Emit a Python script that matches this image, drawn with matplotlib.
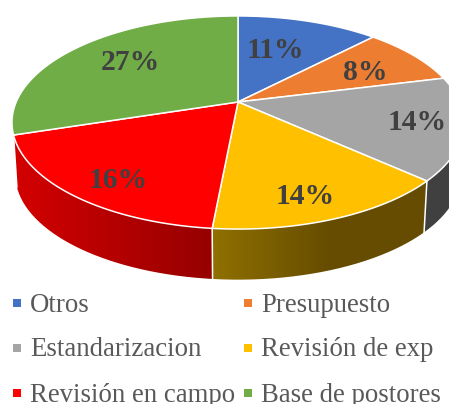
# -*- coding: utf-8 -*-
import numpy as np
import matplotlib
matplotlib.use('Agg')
import matplotlib.pyplot as plt
from matplotlib.patches import PathPatch
from matplotlib.path import Path
from matplotlib.colors import LinearSegmentedColormap

#data
names = ['Otros', 'Presupuesto', 'Estandarizacion', 'Revisión de exp', 'Revisión en campo', 'Base de postores']
labels = ['11%', '8%', '14%', '14%', '16%', '27%']
shares = [12.2, 8.9, 15.6, 14.8, 18.6, 29.9]  # size of each slice as drawn
colors = ['#4472C4', '#ED7D31', '#A5A5A5', '#FFC000', '#FF0000', '#70AD47']

#pie projection, pixels of the picture
cx, cy = 238, 102
A, B, k = 221.8, 102.6, 0.1925
shrink, depth = 0.985, 52.5


def rim(a0, a1, bottom=False):
    t = np.radians(np.linspace(a0, a1, 200))
    w = 1 + k*np.cos(t)
    x = A*np.sin(t)/w
    y = B*np.cos(t)/w
    if bottom:
        return cx + shrink*x, cy - shrink*y + depth
    return cx + x, cy - y


fig = plt.figure(figsize=(4.49, 4.04), dpi=100)
ax = fig.add_axes([0, 0, 1, 1])
ax.set_xlim(0, 449)
ax.set_ylim(404, 0)
ax.axis('off')

edges = np.cumsum([0] + shares)/sum(shares)*360

#side walls, only the slices at the front show one
walls = {2: ('#404040', '#404040', 380, 449),
         3: ('#8F7000', '#664C00', 213, 330),
         4: ('#D20000', '#960000', 18, 212)}
for i, (c0, c1, x0, x1) in walls.items():
    tx, ty = rim(edges[i], edges[i+1])
    bx, by = rim(edges[i], edges[i+1], bottom=True)
    px = np.concatenate([tx, bx[::-1]])
    py = np.concatenate([ty, by[::-1]])
    cm = LinearSegmentedColormap.from_list('w', [c0, c1])
    grad = np.clip((np.arange(0, 449) - x0)/(x1 - x0), 0, 1)[None, :]
    im = ax.imshow(grad, extent=(0, 449, 404, 0), cmap=cm, vmin=0, vmax=1, aspect='auto', zorder=1)
    im.set_clip_path(PathPatch(Path(np.column_stack([px, py])), transform=ax.transData))
    #seam at the end of the wall
    ax.plot([bx[-1], tx[-1]], [by[-1], ty[-1]], color='white', lw=1.1, zorder=2)
ax.set_xlim(0, 449)
ax.set_ylim(404, 0)

#top of the pie
for i in range(len(shares)):
    x, y = rim(edges[i], edges[i+1])
    ax.fill(np.r_[cx, x], np.r_[cy, y], facecolor=colors[i], edgecolor='white', lw=1.1, joinstyle='round', zorder=3)

#data labels
label_pos = [(275, 50), (365, 72), (417, 123), (305, 196), (118, 180), (130, 63)]
for s, (x, y) in zip(labels, label_pos):
    ax.text(x, y, s, family='Liberation Serif', weight='bold', fontsize=21.3, color='#404040',
            ha='center', va='center', zorder=4)

#legend
legend_x = [13, 244]
legend_y = [303, 348, 393]
for i, name in enumerate(names):
    x = legend_x[i % 2]
    y = legend_y[i//2]
    ax.fill([x, x+8, x+8, x], [y-4, y-4, y+4, y+4], color=colors[i], lw=0, zorder=4)
    ax.text(x+17, y+8.5, name, family='Liberation Serif', fontsize=19.3, color='#595959',
            ha='left', va='baseline', zorder=4)

fig.savefig('out.png', dpi=100)
